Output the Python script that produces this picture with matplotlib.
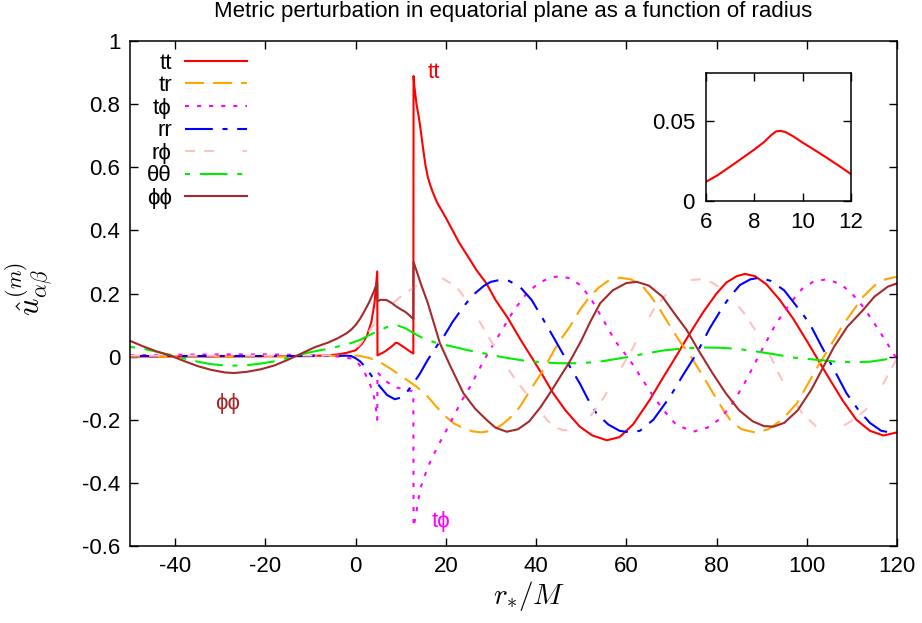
import matplotlib
matplotlib.use("Agg")
import matplotlib.pyplot as plt

# values (x = r_*/M)
tt_x = [-50, -40, -30, -20, -10, -6, -4, -2, 0, 1.5, 2.5, 3.5, 4.2, 4.8, 4.85, 5.4, 6, 6.5, 7, 7.5, 8, 8.4,
        8.7, 8.9, 9.1, 9.3, 9.6, 10, 10.5, 11, 11.5, 12, 12.8, 12.85, 13, 13.5, 14, 14.5, 15, 15.5, 16, 16.5,
        17, 18, 19, 20, 21.5, 23, 25, 26.8, 29, 31, 33.8, 36.5, 39.4, 41.5, 43.8, 46.5, 49.7, 52.5, 55.7,
        58.5, 61.5, 65.2, 68, 71, 74.1, 77, 80, 82.2, 84.5, 86.3, 88.5, 91, 94, 97, 100, 102.5, 105, 108,
        111, 114, 117, 120]
tt_y = [0.0, 0.0, 0.0, 0.001, 0.002, 0.004, 0.007, 0.012, 0.02, 0.042, 0.065, 0.11, 0.17, 0.27, 0.004,
        0.008, 0.012, 0.0163, 0.0215, 0.0268, 0.0322, 0.0368, 0.0412, 0.0435, 0.0438, 0.043, 0.0405,
        0.0365, 0.0318, 0.027, 0.022, 0.0168, 0.01, 0.889, 0.86, 0.8, 0.76, 0.71, 0.655, 0.605, 0.57, 0.545,
        0.525, 0.49, 0.465, 0.44, 0.4, 0.36, 0.315, 0.274, 0.232, 0.18, 0.121, 0.055, -0.011, -0.06,
        -0.116, -0.17, -0.222, -0.25, -0.265, -0.255, -0.215, -0.137, -0.07, 0.0, 0.074, 0.14, 0.2, 0.235,
        0.255, 0.262, 0.255, 0.23, 0.18, 0.12, 0.05, -0.01, -0.07, -0.14, -0.2, -0.235, -0.25, -0.24]

tr_x = [-50, -20, -5, -1.2, 1, 3.2, 5.5, 7.6, 10, 13.5, 16, 18, 20, 21.7, 24, 26, 27.9, 30, 32.5, 34.5,
        36.4, 39, 41.6, 44, 46, 47.5, 49.7, 51.9, 54, 56, 58.6, 61, 63.5, 65.5, 67.5, 70, 72, 74.1, 76.5,
        79, 81.5, 83, 85.5, 88.8, 91.5, 94.5, 97.8, 100.5, 102.5, 105.1, 108, 110.5, 112.5, 115, 117,
        119.2, 120]
tr_y = [0.0, 0.0, 0.002, 0.005, 0.002, -0.005, -0.018, -0.037, -0.06, -0.095, -0.127, -0.16, -0.19, -0.211,
        -0.228, -0.237, -0.24, -0.235, -0.215, -0.19, -0.159, -0.1, -0.042, 0.02, 0.065, 0.095, 0.148,
        0.19, 0.22, 0.24, 0.25, 0.245, 0.225, 0.19, 0.148, 0.09, 0.045, 0.005, -0.05, -0.11, -0.169, -0.2,
        -0.23, -0.241, -0.23, -0.2, -0.148, -0.08, -0.03, 0.031, 0.1, 0.15, 0.19, 0.225, 0.243, 0.251, 0.252]

tp_x = [-50, -40, -30, -20, -10, -5, -3, -1, 0.5, 1.7, 3, 3.9, 4.4, 4.8, 4.85, 6.5, 8.4, 10.5, 12.8, 12.85,
        13.5, 14.3, 16, 18, 19.5, 21.7, 23.5, 25.4, 28.5, 32, 35, 37.9, 40.5, 43, 45.3, 47.5, 50, 52.5,
        54.9, 57.5, 60.8, 63, 65.5, 68.2, 71, 74.8, 78, 80.5, 83, 86, 88, 90.4, 93, 96.3, 99, 101.5,
        104.4, 107.5, 110, 112.5, 115, 117.5, 119.2, 120]
tp_y = [0.004, 0.006, 0.007, 0.007, 0.005, 0.002, -0.001, -0.006, -0.02, -0.042, -0.08, -0.116, -0.15, -0.2,
        -0.05, -0.075, -0.095, -0.103, -0.11, -0.54, -0.49, -0.42, -0.35, -0.29, -0.25, -0.19, -0.14,
        -0.095, -0.01, 0.074, 0.145, 0.2, 0.232, 0.25, 0.255, 0.248, 0.225, 0.175, 0.116, 0.05, -0.011,
        -0.06, -0.115, -0.169, -0.215, -0.238, -0.225, -0.2, -0.16, -0.09, -0.035, 0.03, 0.1, 0.169,
        0.215, 0.238, 0.245, 0.23, 0.2, 0.158, 0.105, 0.05, 0.01, -0.008]

rr_x = [-50, -40, -30, -20, -10, -5, -2, -1, 0, 1, 2, 3, 4, 5.4, 7, 8.7, 10, 11.5, 12.8, 14.3, 16, 18.3,
        19.4, 21.5, 23.9, 26, 28.5, 30, 32, 34, 36.5, 39, 41.5, 43.8, 46.3, 47.5, 49.7, 51.5, 53.4, 56,
        58.5, 60.8, 63, 66, 69.7, 72.5, 75.6, 78.5, 81.5, 83, 85.2, 87.5, 89.6, 92, 95, 98, 100.6, 103,
        106, 108.8, 111.5, 114, 116.5, 118.4, 120]
rr_y = [0.002, 0.002, 0.002, 0.002, 0.002, 0.002, 0.003, 0.002, -0.005, -0.015, -0.03, -0.05, -0.07, -0.095,
        -0.122, -0.135, -0.13, -0.11, -0.085, -0.053, -0.01, 0.04, 0.06, 0.11, 0.158, 0.195, 0.225, 0.237,
        0.243, 0.24, 0.22, 0.18, 0.12, 0.063, 0.0, -0.032, -0.085, -0.135, -0.18, -0.215, -0.235, -0.24,
        -0.235, -0.2, -0.127, -0.06, 0.01, 0.09, 0.16, 0.19, 0.227, 0.245, 0.25, 0.24, 0.21, 0.155, 0.106,
        0.04, -0.04, -0.116, -0.17, -0.21, -0.235, -0.24, -0.242]

rp_x = [-50, -20, -4, -2, -1, 0, 1, 2, 3, 4, 5, 6, 7, 8.5, 10, 11.5, 13.5, 15, 17, 19, 22.4, 25.5, 29, 32,
        35, 38.5, 42.4, 44, 46, 48, 49.7, 52, 55, 58.6, 61, 63.5, 66, 69, 72, 74, 76.3, 79, 81, 83, 86,
        89, 92, 94, 96.3, 99, 102, 105.1, 108, 111, 114, 117, 120]
rp_y = [0.003, 0.003, 0.004, 0.006, 0.012, 0.025, 0.04, 0.06, 0.08, 0.1, 0.12, 0.137, 0.153, 0.172, 0.19,
        0.205, 0.225, 0.245, 0.255, 0.25, 0.221, 0.16, 0.074, 0.0, -0.064, -0.13, -0.2, -0.222, -0.233,
        -0.232, -0.222, -0.19, -0.13, -0.042, 0.015, 0.085, 0.148, 0.2, 0.232, 0.242, 0.245, 0.235, 0.215,
        0.19, 0.14, 0.075, 0.0, -0.06, -0.12, -0.18, -0.22, -0.23, -0.22, -0.195, -0.155, -0.085, -0.005]

hh_x = [-50, -47, -44, -41, -38, -35, -32, -28, -24, -21, -18, -15, -12, -9, -5.7, -3, -1, 1, 3, 5.4, 7,
        9.1, 11, 12.8, 14.3, 16, 18.3, 21.7, 25, 28.5, 32.7, 37, 41, 45, 49.7, 54, 57.5, 60.8, 64, 68,
        72.6, 77, 81, 85, 88.5, 92.6, 97, 102.9, 106.5, 110.3, 114, 117, 120]
hh_y = [0.031, 0.025, 0.015, 0.005, -0.006, -0.016, -0.024, -0.029, -0.027, -0.022, -0.015, -0.004, 0.008,
        0.017, 0.026, 0.035, 0.043, 0.053, 0.068, 0.084, 0.094, 0.1, 0.09, 0.075, 0.063, 0.052, 0.042,
        0.031, 0.02, 0.01, -0.002, -0.012, -0.018, -0.021, -0.021, -0.016, -0.008, 0.0, 0.009, 0.019,
        0.026, 0.029, 0.028, 0.024, 0.017, 0.008, -0.003, -0.011, -0.016, -0.018, -0.016, -0.01, -0.002]

pp_x = [-50, -47, -44, -41, -38, -35, -32, -29, -27, -24, -21, -18, -15, -12, -9, -6, -4, -2, -1, 0, 1, 2,
        3, 4, 4.8, 4.85, 5.5, 6.9, 8, 9.1, 10, 11, 12, 12.8, 12.85, 14.6, 16, 18.7, 21, 23.9, 26.5, 29,
        31, 33.5, 36, 38.5, 41, 43.5, 45.5, 47.3, 50, 52, 54.2, 57, 60, 62.3, 65, 68, 70.5, 73.4, 76, 79,
        82, 85, 88, 90.5, 92.6, 95, 98, 101, 103.7, 106, 109, 112.5, 115, 118, 120]
pp_y = [0.05, 0.032, 0.016, 0.003, -0.014, -0.03, -0.042, -0.05, -0.052, -0.048, -0.04, -0.028, -0.01, 0.01,
        0.03, 0.045, 0.058, 0.074, 0.085, 0.1, 0.12, 0.145, 0.172, 0.205, 0.235, 0.175, 0.18, 0.179, 0.17,
        0.158, 0.15, 0.142, 0.13, 0.119, 0.30, 0.225, 0.17, 0.042, -0.03, -0.116, -0.165, -0.2, -0.225,
        -0.238, -0.23, -0.205, -0.16, -0.106, -0.06, -0.02, 0.05, 0.11, 0.169, 0.21, 0.233, 0.237, 0.225,
        0.19, 0.14, 0.084, 0.02, -0.05, -0.115, -0.17, -0.205, -0.22, -0.222, -0.21, -0.17, -0.105, -0.032,
        0.03, 0.095, 0.148, 0.19, 0.222, 0.232]

labels = ["tt", "tr", "t\u03d5", "rr", "r\u03d5", "\u03b8\u03b8", "\u03d5\u03d5"]
xticks = [-40, -20, 0, 20, 40, 60, 80, 100, 120]
yticks = [-0.6, -0.4, -0.2, 0, 0.2, 0.4, 0.6, 0.8, 1]
ytick_labels = ["-0.6", "-0.4", "-0.2", "0", "0.2", "0.4", "0.6", "0.8", "1"]

plt.rcParams["font.family"] = ["Liberation Sans", "DejaVu Sans"]
plt.rcParams["mathtext.fontset"] = "cm"
plt.rcParams["lines.scale_dashes"] = False
plt.rcParams["axes.unicode_minus"] = False

fig = plt.figure(figsize=(9.22, 6.23), dpi=100)
ax = fig.add_axes([130 / 922, 1 - 546 / 623, 767 / 922, 505 / 623])

styles = [
    ("red", "-"),
    ("orange", (0, (13.7, 6.5))),
    ("magenta", (0, (2.9, 5.8))),
    ("blue", (0, (20, 7, 3.6, 7))),
    ("#ffc0c0", (0, (7.2, 6.5, 7.2, 20.5))),
    ("#00ee00", (0, (3.6, 7, 20, 7))),
    ("#a52a2a", "-"),
]
data = [(tt_x, tt_y), (tr_x, tr_y), (tp_x, tp_y), (rr_x, rr_y), (rp_x, rp_y), (hh_x, hh_y), (pp_x, pp_y)]

for (x, y), (c, ls), lab in zip(data, styles, labels):
    ax.plot(x, y, color=c, linestyle=ls, lw=1.5, label=lab)

ax.set_xlim(-50, 120)
ax.set_ylim(-0.6, 1)
ax.set_xticks(xticks)
ax.set_yticks(yticks)
ax.set_yticklabels(ytick_labels)
ax.tick_params(direction="in", length=6, width=1, top=True, right=True, labelsize=16, pad=7)
for s in ax.spines.values():
    s.set_linewidth(1.1)

ax.set_xlabel(r"$r_{*}/M$", fontsize=21)
ax.xaxis.set_label_coords(0.521, -0.065)
ax.set_ylabel(r"$\hat{u}^{(m)}_{\alpha\beta}$", fontsize=22)
ax.yaxis.set_label_coords(-0.098, 0.509)

fig.text(0.5567, 0.999, "Metric perturbation in equatorial plane as a function of radius",
         ha="center", va="top", fontsize=16)

ax.text(17.4, 0.90, "tt", color="red", fontsize=16, ha="center", va="center")
ax.text(19.0, -0.523, "t\u03d5", color="magenta", fontsize=16, ha="center", va="center")
ax.text(-28.4, -0.150, "\u03d5\u03d5", color="#a52a2a", fontsize=16, ha="center", va="center")

ax.legend(loc="upper left", bbox_to_anchor=(0.022, 0.977), frameon=False,
          markerfirst=False, fontsize=16, handlelength=2.8, handletextpad=0.6, labelspacing=0.07,
          borderpad=0, borderaxespad=0)

# inset zoom on tt
ax2 = fig.add_axes([706 / 922, 1 - 201 / 623, 145 / 922, 128 / 623])
ax2.plot(tt_x, tt_y, color="red", lw=1.5)
ax2.set_xlim(6, 12)
ax2.set_ylim(0, 0.08)
ax2.set_xticks([6, 8, 10, 12])
ax2.set_yticks([0, 0.05])
ax2.set_yticklabels(["0", "0.05"])
ax2.tick_params(direction="in", length=6, width=1, top=True, right=True, labelsize=16, pad=8)
for s in ax2.spines.values():
    s.set_linewidth(1.1)

fig.savefig("out.png", dpi=100)
